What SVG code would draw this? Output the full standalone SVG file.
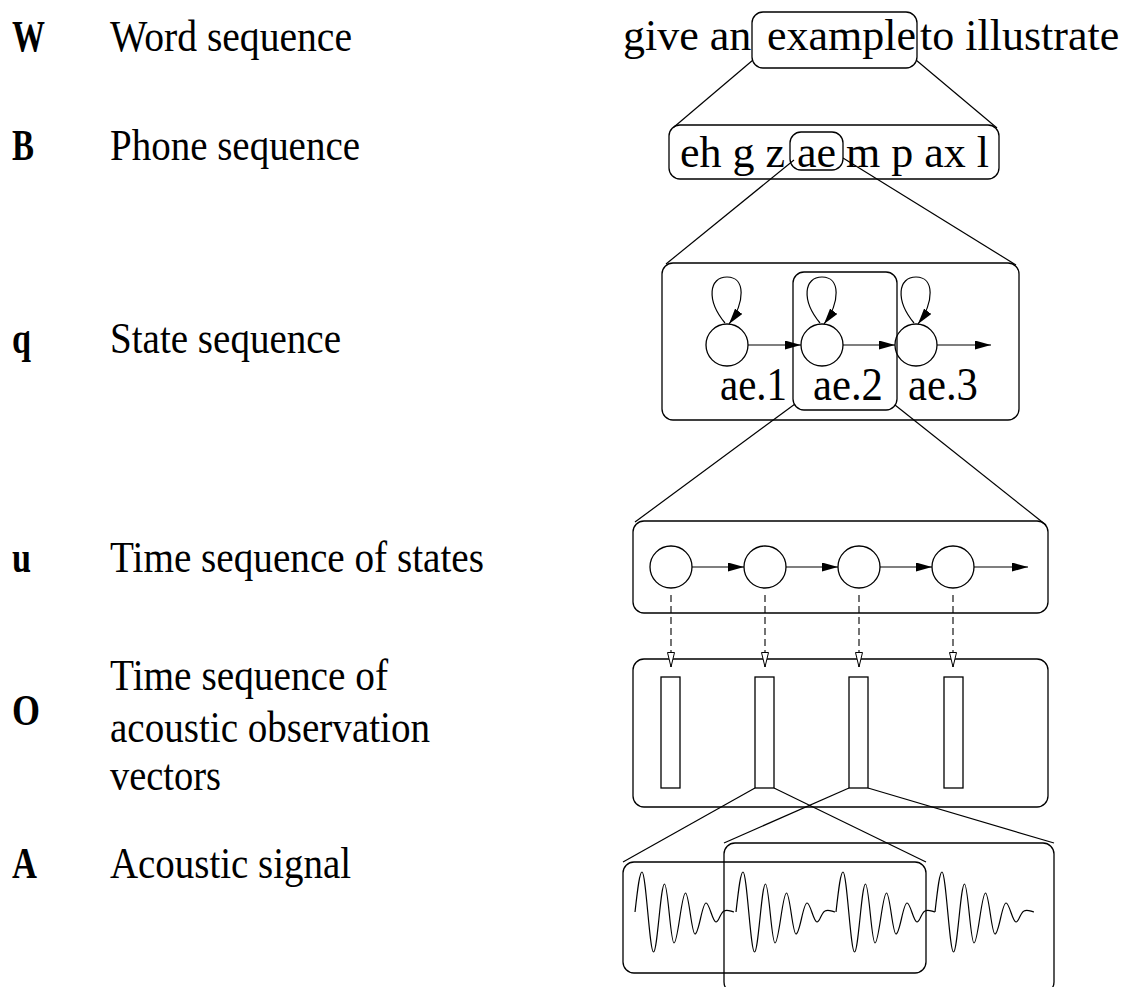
<svg xmlns="http://www.w3.org/2000/svg" width="1136" height="987" viewBox="0 0 1136 987">
<style>
text{font-family:"Liberation Serif","Times New Roman",serif;fill:#000}
.lbl{font-size:44px}
.sym{font-size:44px;font-weight:bold}
.big{font-size:44px}
.st{font-size:46px}
.box{fill:none;stroke:#000;stroke-width:1.3}
.ln{fill:none;stroke:#000;stroke-width:1.2}
.circ{fill:none;stroke:#000;stroke-width:1.3}
.arr{fill:none;stroke:#000;stroke-width:1.2;marker-end:url(#ah)}
.dash{fill:none;stroke:#000;stroke-width:1.1;stroke-dasharray:7 4;marker-end:url(#oh)}
.wave{fill:none;stroke:#000;stroke-width:1.2}
</style>
<defs>
<marker id="ah" markerUnits="userSpaceOnUse" markerWidth="18" markerHeight="10" refX="16" refY="4.5" orient="auto">
<path d="M0,0 L16,4.5 L0,9 z" fill="#000"/>
</marker>
<marker id="oh" markerUnits="userSpaceOnUse" markerWidth="17" markerHeight="10" refX="15" refY="4" orient="auto">
<path d="M0.5,0.5 L15,4 L0.5,7.5 z" fill="#fff" stroke="#000" stroke-width="1"/>
</marker>
<path id="wv" class="wave" d="M0,0 C2.5,-22 4.5,-40 7,-40 C11,-40 14.5,40 18.5,40 C22.5,40 25.5,-28 29.5,-28 C33,-28 35.5,31 39,31 C43,31 46.5,-19 50.5,-19 C54,-19 56.5,22 60,22 C64,22 67,-9 71,-9 C74.5,-9 77.5,10 81,10 C84,10 85,1 89,-1 C92,-3 95,-1 99,0"/>
</defs>

<g id="labels">
<text class="sym" x="12" y="51" textLength="33" lengthAdjust="spacingAndGlyphs">W</text><text class="lbl" x="110" y="51" textLength="242" lengthAdjust="spacingAndGlyphs">Word sequence</text>
<text class="sym" x="12" y="160" textLength="22" lengthAdjust="spacingAndGlyphs">B</text><text class="lbl" x="110" y="160" textLength="250" lengthAdjust="spacingAndGlyphs">Phone sequence</text>
<text class="sym" x="12" y="353" textLength="19" lengthAdjust="spacingAndGlyphs">q</text><text class="lbl" x="110" y="353" textLength="231" lengthAdjust="spacingAndGlyphs">State sequence</text>
<text class="sym" x="12" y="572" textLength="19" lengthAdjust="spacingAndGlyphs">u</text><text class="lbl" x="110" y="572" textLength="374" lengthAdjust="spacingAndGlyphs">Time sequence of states</text>
<text class="sym" x="12" y="725" textLength="28" lengthAdjust="spacingAndGlyphs">O</text><text class="lbl" x="110" y="690" textLength="278" lengthAdjust="spacingAndGlyphs">Time sequence of</text><text class="lbl" x="110" y="742" textLength="320" lengthAdjust="spacingAndGlyphs">acoustic observation</text><text class="lbl" x="110" y="790" textLength="111" lengthAdjust="spacingAndGlyphs">vectors</text>
<text class="sym" x="12" y="878" textLength="25" lengthAdjust="spacingAndGlyphs">A</text><text class="lbl" x="110" y="878" textLength="241" lengthAdjust="spacingAndGlyphs">Acoustic signal</text>
</g>

<g id="words">
<text class="big" x="623" y="50">give an</text>
<text class="big" x="767" y="50">example</text>
<text class="big" x="920" y="50">to illustrate</text>
<rect class="box" x="752" y="12" width="165" height="56" rx="11"/>
</g>

<g id="phones">
<rect class="box" x="669" y="125" width="330" height="54" rx="11"/>
<text class="big" x="680" y="167">eh g z</text>
<text class="big" x="797" y="167">ae</text>
<text class="big" x="846" y="167">m p ax l</text>
<rect class="box" x="790" y="132" width="53" height="38" rx="11"/>
</g>

<g id="states">
<rect class="box" x="662" y="263" width="357" height="157" rx="11"/>
<rect class="box" x="793" y="272" width="104" height="138" rx="11"/>
<circle class="circ" cx="727" cy="345" r="21"/>
<circle class="circ" cx="822" cy="345" r="21"/>
<circle class="circ" cx="916" cy="345" r="21"/>
<path class="arr" d="M748,345 L801,345"/>
<path class="arr" d="M843,345 L895,345"/>
<path class="arr" d="M937,345 L991,345"/>
<path class="arr" d="M725,323 C706,300 709,277 727,277 C746,277 745,303 729,324"/>
<path class="arr" d="M820,323 C801,300 804,277 822,277 C841,277 840,303 824,324"/>
<path class="arr" d="M914,323 C895,300 898,277 916,277 C935,277 934,303 918,324"/>
<text class="st" x="720" y="400" textLength="67" lengthAdjust="spacingAndGlyphs">ae.1</text>
<text class="st" x="813" y="400" textLength="70" lengthAdjust="spacingAndGlyphs">ae.2</text>
<text class="st" x="908" y="400" textLength="70" lengthAdjust="spacingAndGlyphs">ae.3</text>
</g>

<g id="timeseq">
<rect class="box" x="633" y="521" width="415" height="92" rx="11"/>
<circle class="circ" cx="671" cy="567" r="21"/>
<circle class="circ" cx="765" cy="567" r="21"/>
<circle class="circ" cx="859" cy="567" r="21"/>
<circle class="circ" cx="953" cy="567" r="21"/>
<path class="arr" d="M692,567 L744,567"/>
<path class="arr" d="M786,567 L838,567"/>
<path class="arr" d="M880,567 L932,567"/>
<path class="arr" d="M974,567 L1028,567"/>
</g>

<g id="observations">
<rect class="box" x="633" y="659" width="415" height="148" rx="11"/>
<rect class="box" x="661" y="677" width="19" height="111"/>
<rect class="box" x="755" y="677" width="19" height="111"/>
<rect class="box" x="849" y="677" width="19" height="111"/>
<rect class="box" x="944" y="677" width="19" height="111"/>
</g>

<g id="signal">
<rect class="box" x="623" y="862" width="303" height="111" rx="11"/>
<rect class="box" x="724" y="843" width="330" height="150" rx="11"/>
<use href="#wv" x="635" y="912"/>
<use href="#wv" x="736" y="912"/>
<use href="#wv" x="836" y="912"/>
<use href="#wv" x="935" y="912"/>
</g>

<g id="connectors">
<path class="ln" d="M753,60 L674,127"/>
<path class="ln" d="M916,60 L997,128"/>
<path class="ln" d="M794,160 L666,264"/>
<path class="ln" d="M843,158 L1016,265"/>
<path class="ln" d="M795,404 L635,522"/>
<path class="ln" d="M895,405 L1046,525"/>
<path class="dash" d="M671,595 L671,667"/>
<path class="dash" d="M765,595 L765,667"/>
<path class="dash" d="M859,595 L859,667"/>
<path class="dash" d="M953,595 L953,667"/>
<path class="ln" d="M755,788 L623,862"/>
<path class="ln" d="M774,788 L926,862"/>
<path class="ln" d="M849,788 L724,843"/>
<path class="ln" d="M868,788 L1054,843"/>
</g>
</svg>
